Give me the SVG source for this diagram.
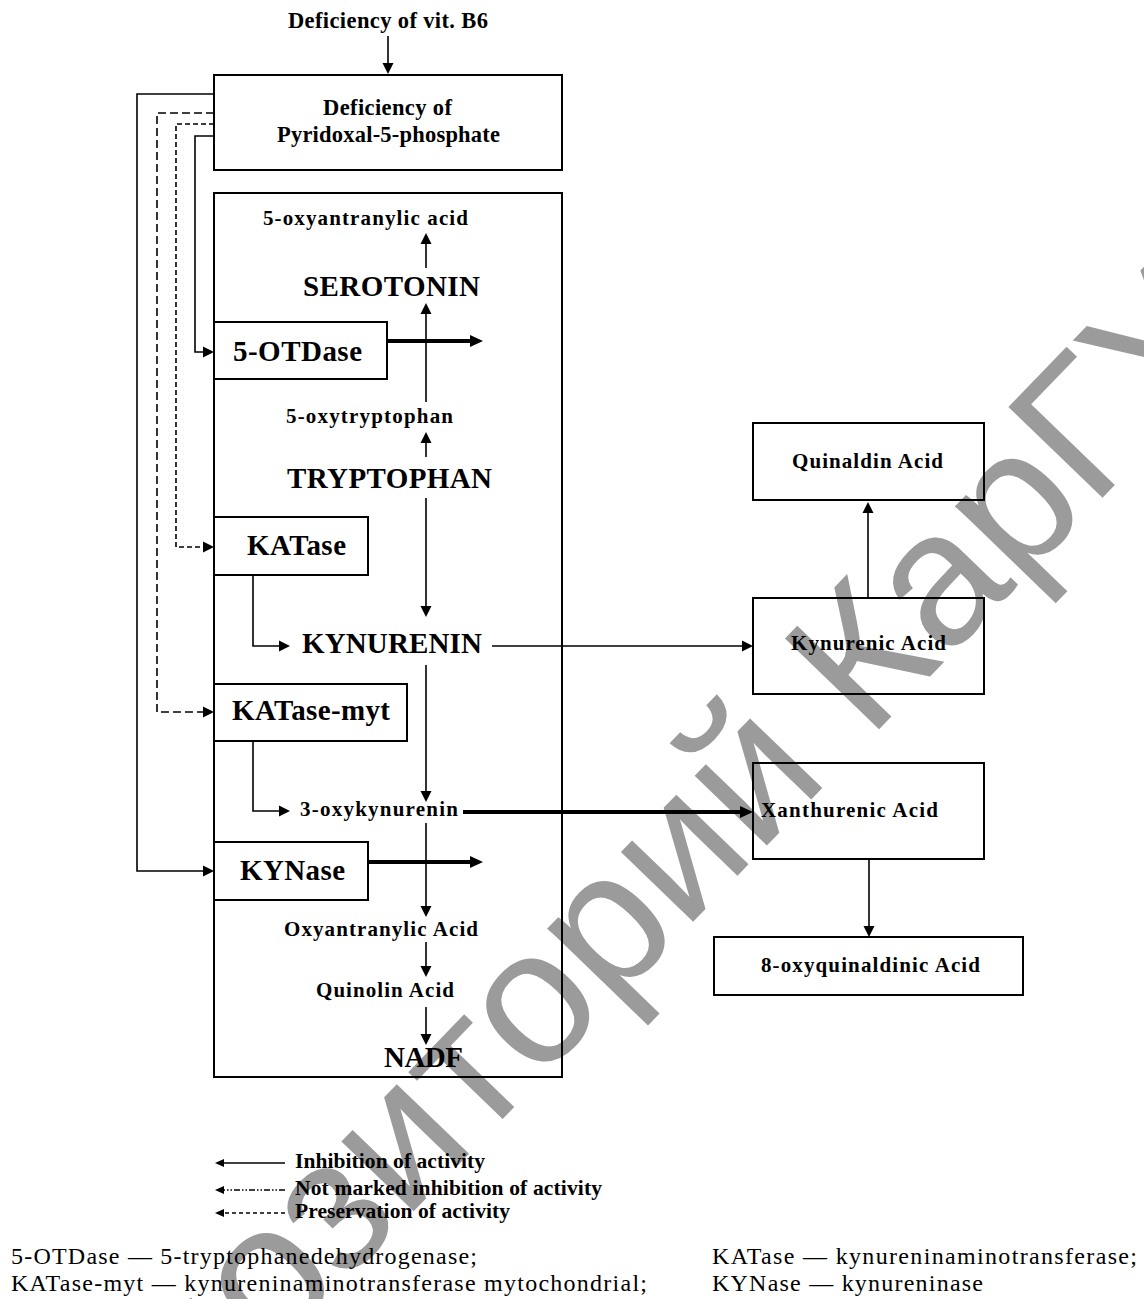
<svg xmlns="http://www.w3.org/2000/svg" width="1144" height="1299" viewBox="0 0 1144 1299">
<style>
.b{font-family:"Liberation Serif","Times New Roman",serif;font-weight:bold;fill:#000}
.r{font-family:"Liberation Serif","Times New Roman",serif;font-weight:normal;fill:#000;font-size:24px}
.box{fill:none;stroke:#000;stroke-width:2}
.ln{fill:none;stroke:#000;stroke-width:1.6}
.th{stroke-width:3.8}
.wm{font-family:"Liberation Sans",Arial,sans-serif;fill:#9b9b9b}
</style>
<defs>
<marker id="ah" markerUnits="userSpaceOnUse" markerWidth="1" markerHeight="1" refX="0" refY="0" orient="auto" overflow="visible"><path d="M0,-5.5 L11,0 L0,5.5 z" fill="#000"/></marker>
<marker id="ahb" markerUnits="userSpaceOnUse" markerWidth="1" markerHeight="1" refX="0" refY="0" orient="auto" overflow="visible"><path d="M0,-6 L13,0 L0,6 z" fill="#000"/></marker>
<marker id="ahs" markerUnits="userSpaceOnUse" markerWidth="1" markerHeight="1" refX="0" refY="0" orient="auto" overflow="visible"><path d="M0,-4 L9,0 L0,4 z" fill="#000"/></marker>
</defs>
<rect width="1144" height="1299" fill="#fff"/>
<g id="watermark" transform="translate(45,1593) rotate(-46)">
<text class="wm" x="0" y="0" font-size="190">Репозиторий КарГУ</text>
</g>
<g id="connectors">
<path class="ln" d="M388,36 V63" marker-end="url(#ah)"/>
<path class="ln" d="M214,94 H137 V871 H203" marker-end="url(#ah)"/>
<path class="ln" d="M214,113 H157 V712 H203" stroke-dasharray="8 4" marker-end="url(#ah)"/>
<path class="ln" d="M214,124 H176 V547 H203" stroke-dasharray="5 3" marker-end="url(#ah)"/>
<path class="ln" d="M214,136 H195 V352 H203" marker-end="url(#ah)"/>
<path class="ln" d="M426,268 V244" marker-end="url(#ah)"/>
<path class="ln" d="M426,402 V314" marker-end="url(#ah)"/>
<path class="ln" d="M426,457 V443" marker-end="url(#ah)"/>
<path class="ln" d="M426,498 V606" marker-end="url(#ah)"/>
<path class="ln" d="M253,575 V646 H279" marker-end="url(#ah)"/>
<path class="ln" d="M492,646 H742" marker-end="url(#ah)"/>
<path class="ln" d="M426,665 V791" marker-end="url(#ah)"/>
<path class="ln" d="M253,741 V811 H279" marker-end="url(#ah)"/>
<path class="ln" d="M426,823 V906" marker-end="url(#ah)"/>
<path class="ln" d="M426,942 V966" marker-end="url(#ah)"/>
<path class="ln" d="M426,1007 V1034" marker-end="url(#ah)"/>
<path class="ln" d="M868,598 V513" marker-end="url(#ah)"/>
<path class="ln" d="M869,860 V926" marker-end="url(#ah)"/>
<path class="ln th" d="M387,341 H470" marker-end="url(#ahb)"/>
<path class="ln th" d="M463,812 H740" marker-end="url(#ahb)"/>
<path class="ln th" d="M368,862 H470" marker-end="url(#ahb)"/>
</g>
<g id="legend">
<path class="ln" d="M285,1163 H224" marker-end="url(#ahs)"/>
<path class="ln" d="M285,1190 H224" stroke-dasharray="6 2 1.5 2 1.5 2" marker-end="url(#ahs)"/>
<path class="ln" d="M285,1213 H224" stroke-dasharray="4 3" marker-end="url(#ahs)"/>
<text class="b" x="295" y="1168" font-size="21.5" textLength="190">Inhibition of activity</text>
<text class="b" x="295" y="1195" font-size="21.5" textLength="307">Not marked inhibition of activity</text>
<text class="b" x="295" y="1218" font-size="21.5" textLength="215">Preservation of activity</text>
</g>
<g id="vitB6"><text class="b" x="288" y="28" font-size="22.5" textLength="200">Deficiency of vit. B6</text></g>
<g id="p5p">
<rect class="box" x="214" y="75" width="348" height="95"/>
<text class="b" x="323" y="115" font-size="22.5" textLength="129">Deficiency of</text>
<text class="b" x="277" y="142" font-size="22.5" textLength="223">Pyridoxal-5-phosphate</text>
</g>
<g id="pathway"><rect class="box" x="214" y="193" width="348" height="884"/></g>
<g id="oxyantranylic"><text class="b" x="263" y="225" font-size="21" textLength="205">5-oxyantranylic acid</text></g>
<g id="serotonin"><text class="b" x="303" y="296" font-size="29" textLength="177">SEROTONIN</text></g>
<g id="otdase"><rect class="box" x="214" y="322" width="173" height="57"/><text class="b" x="233" y="361" font-size="29" textLength="129">5-OTDase</text></g>
<g id="oxytryptophan"><text class="b" x="286" y="423" font-size="21" textLength="167">5-oxytryptophan</text></g>
<g id="tryptophan"><text class="b" x="287" y="488" font-size="29" textLength="205">TRYPTOPHAN</text></g>
<g id="katase"><rect class="box" x="214" y="517" width="154" height="58"/><text class="b" x="247" y="555" font-size="29" textLength="99">KATase</text></g>
<g id="kynurenin"><text class="b" x="302" y="653" font-size="29" textLength="180">KYNURENIN</text></g>
<g id="katase-myt"><rect class="box" x="214" y="684" width="193" height="57"/><text class="b" x="232" y="720" font-size="29" textLength="158">KATase-myt</text></g>
<g id="oxykynurenin"><text class="b" x="300" y="816" font-size="21" textLength="158">3-oxykynurenin</text></g>
<g id="kynase"><rect class="box" x="214" y="842" width="154" height="58"/><text class="b" x="240" y="880" font-size="29" textLength="105">KYNase</text></g>
<g id="oxyantranylic-acid"><text class="b" x="284" y="936" font-size="21" textLength="194">Oxyantranylic Acid</text></g>
<g id="quinolin"><text class="b" x="316" y="997" font-size="21" textLength="138">Quinolin Acid</text></g>
<g id="nadf"><text class="b" x="384" y="1067" font-size="29" textLength="79">NADF</text></g>
<g id="quinaldin"><rect class="box" x="753" y="423" width="231" height="77"/><text class="b" x="792" y="468" font-size="21" textLength="151">Quinaldin Acid</text></g>
<g id="kynurenic"><rect class="box" x="753" y="598" width="231" height="96"/><text class="b" x="791" y="650" font-size="21" textLength="155">Kynurenic Acid</text></g>
<g id="xanthurenic"><rect class="box" x="753" y="763" width="231" height="96"/><text class="b" x="761" y="817" font-size="21" textLength="177">Xanthurenic Acid</text></g>
<g id="oxyquinaldinic"><rect class="box" x="714" y="937" width="309" height="58"/><text class="b" x="761" y="972" font-size="21" textLength="219">8-oxyquinaldinic Acid</text></g>
<g id="footnotes">
<text class="r" x="11" y="1264" textLength="466">5-OTDase — 5-tryptophanedehydrogenase;</text>
<text class="r" x="11" y="1291" textLength="636">KATase-myt — kynureninaminotransferase mytochondrial;</text>
<text class="r" x="712" y="1264" textLength="425">KATase — kynureninaminotransferase;</text>
<text class="r" x="712" y="1291" textLength="271">KYNase — kynureninase</text>
</g>
</svg>
